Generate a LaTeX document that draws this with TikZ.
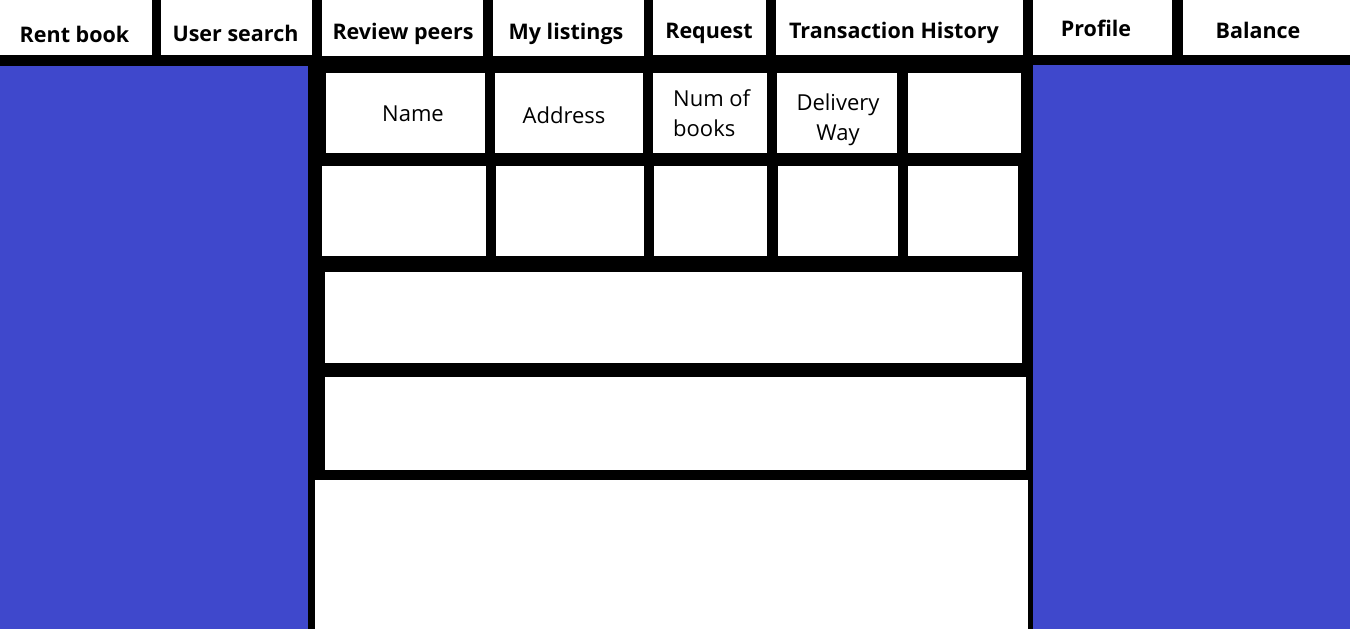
\documentclass[tikz,border=0pt]{standalone}
\usepackage{fontspec}
\setmainfont{Open Sans}
\usepackage{tikz}
\definecolor{paintblue}{RGB}{63,72,204}

\begin{document}
\begin{tikzpicture}[x=1pt,y=-1pt,
    box/.style={fill=white,inner sep=0pt,anchor=north west},
    tablabel/.style={font=\fontsize{21.5}{26}\selectfont\bfseries,inner sep=0pt,anchor=base},
    headlabel/.style={font=\fontsize{22}{30}\selectfont,inner sep=0pt,anchor=base}]
    \useasboundingbox (0,0) rectangle (1350,629);
    \fill[black] (0,0) rectangle (1350,629);
    \fill[paintblue] (0,66) rectangle (308,629);
    \fill[paintblue] (1033,65) rectangle (1350,629);
    \foreach \n/\xa/\ya/\xb/\yb in {%
        rentbox/0/0/152/55, searchbox/161/0/312/55, reviewbox/322/0/483/56,
        listbox/493/0/644/56, requestbox/653/0/766/55, historybox/776/0/1023/55,
        profilebox/1033/0/1172/55, balancebox/1183/0/1350/55,
        namebox/326/73/485/153, addrbox/495/73/643/153, numbox/653/73/767/153,
        deliverybox/777/73/897/153, extrabox/908/73/1021/153,
        namecell/322/166/486/256, addrcell/496/166/644/256, numcell/654/166/767/256,
        deliverycell/778/166/898/256, extracell/908/166/1018/256,
        panela/325/272/1022/363, panelb/325/377/1026/470, panelc/315/480/1028/629}
      \node[box,minimum width={(\xb-\xa)*1pt},minimum height={(\yb-\ya)*1pt}] (\n) at (\xa,\ya) {};
    \node[tablabel] (rent) at (74.5,42) {Rent book};
    \node[tablabel] (search) at (235.5,41) {User search};
    \node[tablabel] (review) at (403,39) {Review peers};
    \node[tablabel] (listings) at (566,39.5) {My listings};
    \node[tablabel] (request) at (709,38) {Request};
    \node[tablabel] (history) at (894,38) {Transaction History};
    \node[tablabel] (profile) at (1096,36) {Profile};
    \node[tablabel] (balance) at (1258,38) {Balance};
    \node[headlabel] (name) at (413,121) {Name};
    \node[headlabel] (address) at (564,123) {Address};
    \node[headlabel,anchor=base west,align=left] (num) at (673,136) {Num of\\books};
    \node[headlabel,align=center] (delivery) at (838,140) {Delivery\\Way};
  \end{tikzpicture}
\end{document}
